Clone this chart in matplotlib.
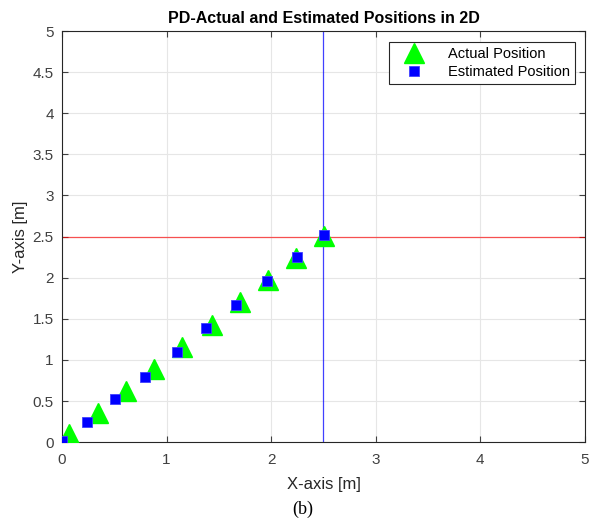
import matplotlib.pyplot as plt

plt.rcParams['font.family'] = ['Liberation Sans', 'DejaVu Sans']

# posiciones reales y estimadas (m)
actual_x = [0.07, 0.34, 0.61, 0.88, 1.15, 1.43, 1.70, 1.97, 2.24, 2.51]
actual_y = [0.10, 0.35, 0.62, 0.89, 1.16, 1.43, 1.70, 1.97, 2.24, 2.51]
est_x = [0.00, 0.24, 0.51, 0.79, 1.10, 1.38, 1.66, 1.96, 2.25, 2.51]
est_y = [0.01, 0.24, 0.52, 0.79, 1.10, 1.39, 1.67, 1.96, 2.25, 2.52]
target_x = 2.5
target_y = 2.5
ticks = [0, 0.5, 1, 1.5, 2, 2.5, 3, 3.5, 4, 4.5, 5]

fig = plt.figure(figsize=(5.92, 5.22), dpi=100)
ax = fig.add_axes([0.1047, 0.153, 0.8833, 0.7876])

ax.axvline(target_x, color='#0000ff', lw=0.9, alpha=0.75)
ax.axhline(target_y, color='#ff0000', lw=0.9, alpha=0.65)
ax.plot(actual_x, actual_y, '^', color='#00ff00', ms=14, mec='#00ff00',
        ls='none', label='Actual Position', zorder=3)
ax.plot(est_x, est_y, 's', color='#0000ff', ms=7, mec='#4040ff', mew=0.6,
        ls='none', label='Estimated Position', zorder=4)

ax.set_xlim(0, 5)
ax.set_ylim(0, 5)
ax.set_xticks([0, 1, 2, 3, 4, 5])
ax.set_yticks(ticks)
ax.set_yticklabels(['0', '0.5', '1', '1.5', '2', '2.5', '3', '3.5', '4', '4.5', '5'])
ax.grid(True, color='#e6e6e6', lw=0.8)
ax.set_axisbelow(True)
ax.tick_params(direction='in', length=4, colors='#404040', labelsize=11, top=True, right=True)
ax.tick_params(axis='x', pad=8)
ax.tick_params(axis='y', pad=6)
for s in ax.spines.values():
    s.set_color('#262626')
    s.set_linewidth(0.8)

ax.set_title('PD-Actual and Estimated Positions in 2D', fontsize=11.5, fontweight='bold', pad=6)
ax.set_xlabel('X-axis [m]', fontsize=12, color='#262626', labelpad=7)
ax.set_ylabel('Y-axis [m]', fontsize=12, color='#262626', labelpad=3)

leg = ax.legend(loc='upper right', fontsize=10.5, frameon=True, fancybox=False,
                edgecolor='#262626', framealpha=1, borderpad=0.35,
                handlelength=2.8, handletextpad=0.9, labelspacing=0.25,
                borderaxespad=0, bbox_to_anchor=(0.981, 0.973))
leg.get_frame().set_linewidth(0.8)

fig.text(0.512, 0.015, '(b)', fontsize=13, family='Liberation Serif', ha='center')

fig.savefig('out.png', dpi=100)
